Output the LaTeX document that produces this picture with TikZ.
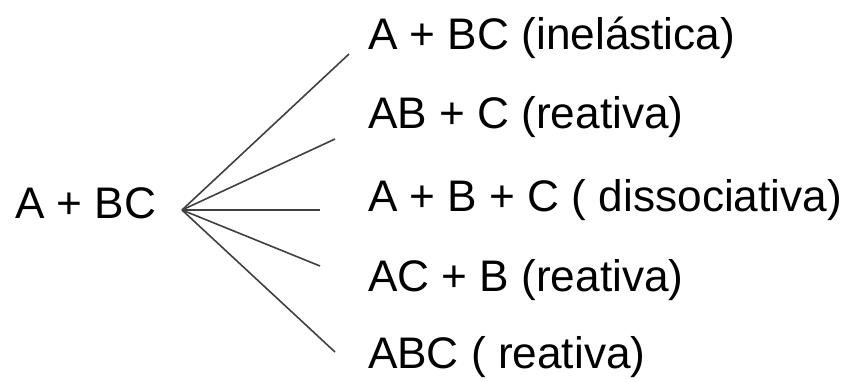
\documentclass[tikz,border=0pt]{standalone}
\usepackage{fontspec}
\setmainfont{Liberation Sans}
\begin{document}
\begin{tikzpicture}[x=1pt,y=-1pt,
  lbl/.style={anchor=base west,inner sep=0pt,outer sep=0pt,font=\fontsize{44.2}{50}\selectfont},
  ray/.style={draw=black!75,line width=1.6pt}]
\useasboundingbox (0,0) rectangle (849,381);
\node[lbl] (src) at (15,218) {A + BC};
\coordinate (hub) at (182,210);
\node[lbl] (t1) at (368,49) {A + BC (inelástica)};
\node[lbl] (t2) at (368,128) {AB + C (reativa)};
\node[lbl] (t3) at (368,211) {A + B + C ( dissociativa)};
\node[lbl] (t4) at (368,291) {AC + B (reativa)};
\node[lbl] (t5) at (368,368) {ABC ( reativa)};
\coordinate (e1) at (349,54);
\coordinate (e2) at (335,139);
\coordinate (e3) at (320,210);
\coordinate (e4) at (320,266);
\coordinate (e5) at (335,352);
\foreach \i in {1,...,5} \draw[ray] (hub) -- (e\i);
\end{tikzpicture}
\end{document}
